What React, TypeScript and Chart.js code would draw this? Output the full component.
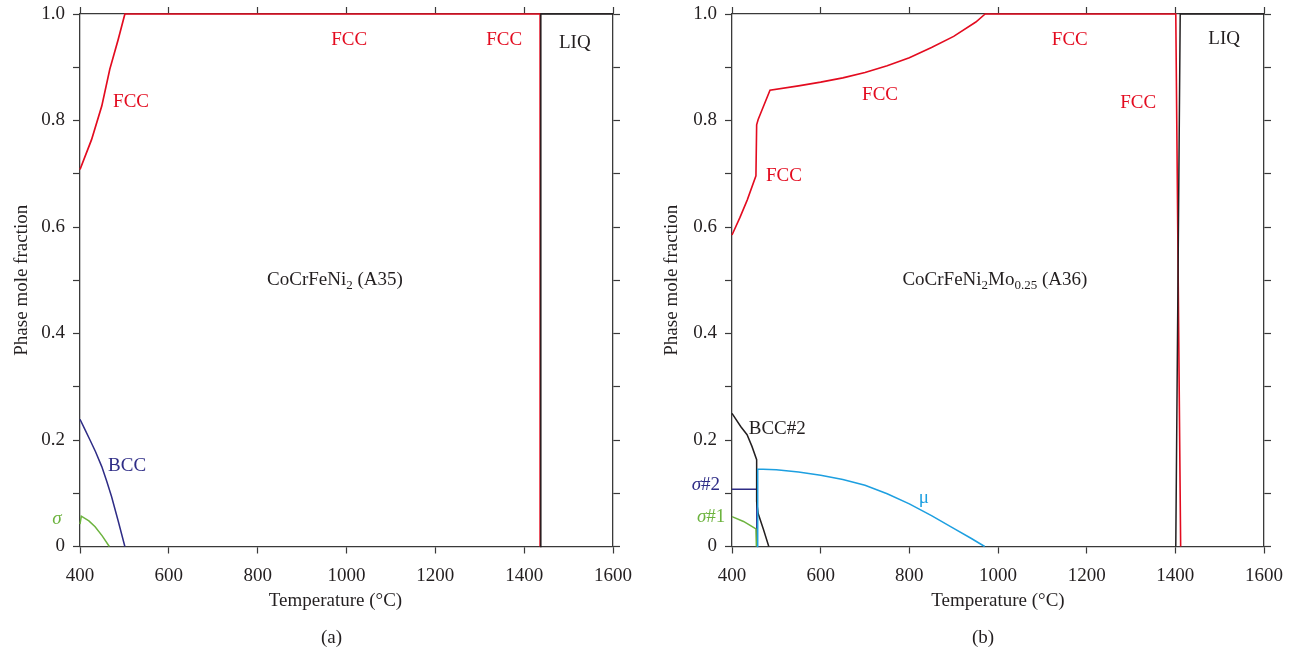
import React, { useEffect, useRef } from 'react';
import { Chart, registerables } from 'chart.js';

Chart.register(...registerables);

const FONT = '"Liberation Serif", "DejaVu Serif", serif';
const RED = '#e30b1f';
const BLUE = '#2e2c86';
const GREEN = '#6cb33e';
const CYAN = '#1d9fe0';
const BLACK = '#231f20';
const AXIS = '#3a3a3a';

// ---------- Panel (a): CoCrFeNi2 (A35) ----------
const aFccT = [400, 426, 449, 467, 486, 501, 1436, 1436];
const aFccF = [0.708, 0.764, 0.827, 0.896, 0.952, 1.0, 1.0, 0];
const aLiqT = [1436, 1437.5, 1600];
const aLiqF = [0, 1.0, 1.0];
const aBccT = [400, 411, 422.5, 435, 449, 460, 471, 486, 501];
const aBccF = [0.239, 0.22, 0.2, 0.178, 0.15, 0.123, 0.094, 0.048, 0];
const aSigT = [400, 403, 420, 434, 450, 466];
const aSigF = [0.042, 0.057, 0.048, 0.037, 0.02, 0];

// ---------- Panel (b): CoCrFeNi2Mo0.25 (A36) ----------
const bFccT = [400, 418, 434.5, 454, 455.6, 459, 485.7, 550, 600, 650, 700, 750, 800, 850, 900, 950, 971, 1401, 1412];
const bFccF = [0.585, 0.618, 0.651, 0.696, 0.792, 0.802, 0.857, 0.865, 0.872, 0.88, 0.89, 0.903, 0.918, 0.937, 0.958, 0.985, 1.0, 1.0, 0];
const bLiqT = [1401, 1411, 1600];
const bLiqF = [0, 1.0, 1.0];
const bBcc2T = [400, 420, 434, 445, 455.6, 455.6, 459, 471, 483];
const bBcc2F = [0.25, 0.225, 0.21, 0.188, 0.163, 0.084, 0.062, 0.032, 0];
const bSig2T = [400, 456, 456];
const bSig2F = [0.1075, 0.1075, 0];
const bSig1T = [400, 426, 440, 454, 455];
const bSig1F = [0.056, 0.047, 0.04, 0.033, 0];
const bMuT = [456.5, 458, 470, 500, 550, 600, 650, 700, 750, 800, 850, 900, 940, 970];
const bMuF = [0, 0.145, 0.145, 0.144, 0.14, 0.134, 0.126, 0.115, 0.099, 0.08, 0.058, 0.034, 0.015, 0];

const X_MIN = 400;
const X_MAX = 1600;
const X_STEP = 200;
const Y_STEP = 0.1;
const X_TITLE = 'Temperature (°C)';
const Y_TITLE = 'Phase mole fraction';

type Part = { s: string; sub?: boolean; it?: boolean };
type Label = { parts: Part[]; t: number; f: number; color: string };

const aLabels: Label[] = [
  { parts: [{ s: 'FCC' }], t: 515, f: 0.839, color: RED },
  { parts: [{ s: 'FCC' }], t: 1006, f: 0.954, color: RED },
  { parts: [{ s: 'FCC' }], t: 1355, f: 0.954, color: RED },
  { parts: [{ s: 'LIQ' }], t: 1514, f: 0.95, color: BLACK },
  { parts: [{ s: 'BCC' }], t: 506, f: 0.155, color: BLUE },
  { parts: [{ s: 'σ', it: true }], t: 348, f: 0.055, color: GREEN },
  { parts: [{ s: 'CoCrFeNi' }, { s: '2', sub: true }, { s: ' (A35)' }], t: 974, f: 0.505, color: BLACK },
];

const bLabels: Label[] = [
  { parts: [{ s: 'FCC' }], t: 1162, f: 0.954, color: RED },
  { parts: [{ s: 'FCC' }], t: 734, f: 0.852, color: RED },
  { parts: [{ s: 'FCC' }], t: 1316, f: 0.837, color: RED },
  { parts: [{ s: 'FCC' }], t: 517, f: 0.7, color: RED },
  { parts: [{ s: 'LIQ' }], t: 1510, f: 0.956, color: BLACK },
  { parts: [{ s: 'BCC#2' }], t: 502, f: 0.225, color: BLACK },
  { parts: [{ s: 'σ', it: true }, { s: '#2' }], t: 341, f: 0.119, color: BLUE },
  { parts: [{ s: 'σ', it: true }, { s: '#1' }], t: 353, f: 0.059, color: GREEN },
  { parts: [{ s: 'μ' }], t: 833, f: 0.095, color: CYAN },
  {
    parts: [{ s: 'CoCrFeNi' }, { s: '2', sub: true }, { s: 'Mo' }, { s: '0.25', sub: true }, { s: ' (A36)' }],
    t: 993,
    f: 0.505,
    color: BLACK,
  },
];

const zip = (t: number[], f: number[]) => t.map((v, i) => ({ x: v, y: f[i] }));

const line = (t: number[], f: number[], color: string, width = 1.5) => ({
  data: zip(t, f),
  borderColor: color,
  backgroundColor: color,
  borderWidth: width,
  pointRadius: 0,
  tension: 0,
  fill: false,
  clip: false as any,
});

const FS = 19;
const SUB = 13;

function drawRich(ctx: CanvasRenderingContext2D, parts: Part[], cx: number, cy: number, color: string) {
  const fontOf = (p: Part) => `${p.it ? 'italic ' : ''}${p.sub ? SUB : FS}px ${FONT}`;
  let total = 0;
  const widths = parts.map((p) => {
    ctx.font = fontOf(p);
    const w = ctx.measureText(p.s).width;
    total += w;
    return w;
  });
  let x = cx - total / 2;
  ctx.fillStyle = color;
  ctx.textBaseline = 'middle';
  ctx.textAlign = 'left';
  parts.forEach((p, i) => {
    ctx.font = fontOf(p);
    ctx.fillText(p.s, x, cy + 2 + (p.sub ? 6 : 0));
    x += widths[i];
  });
}

function makeTextPlugin(labels: Label[], caption: string, titleShift: number) {
  return {
    id: 'phaseText',
    afterDatasetsDraw(chart: any) {
      const { ctx, scales, chartArea } = chart;
      ctx.save();
      for (const lab of labels) {
        const cx = scales.x.getPixelForValue(lab.t);
        const cy = scales.y.getPixelForValue(lab.f);
        drawRich(ctx, lab.parts, cx, cy, lab.color);
      }
      const mid = (chartArea.left + chartArea.right) / 2;
      ctx.font = `${FS}px ${FONT}`;
      ctx.fillStyle = BLACK;
      ctx.textAlign = 'center';
      ctx.textBaseline = 'middle';
      ctx.fillText(X_TITLE, mid + titleShift, 601);
      ctx.fillText(caption, mid - 15, chart.height - 16);
      ctx.restore();
    },
  };
}

const gridOpts = {
  drawOnChartArea: false,
  drawTicks: true,
  tickLength: 7,
  tickColor: AXIS,
  tickWidth: 1.2,
};
const borderOpts = { display: true, color: AXIS, width: 1.3 };
const tickFont = { family: FONT, size: FS };

function makeConfig(
  datasets: any[],
  labels: Label[],
  caption: string,
  yWidth: number,
  y2Width: number,
  yTitlePad: number,
  titleShift: number
): any {
  return {
    type: 'line',
    data: { datasets },
    options: {
      animation: false,
      responsive: false,
      maintainAspectRatio: false,
      devicePixelRatio: 1,
      layout: { padding: 0 },
      plugins: { legend: { display: false }, tooltip: { enabled: false }, title: { display: false } },
      scales: {
        x: {
          type: 'linear',
          position: 'bottom',
          min: X_MIN,
          max: X_MAX,
          ticks: {
            stepSize: X_STEP,
            font: tickFont,
            color: BLACK,
            padding: 11,
            maxRotation: 0,
            autoSkip: false,
            callback: (v: number) => String(v),
          },
          grid: gridOpts,
          border: borderOpts,
          afterFit: (s: any) => {
            s.height = 107.5;
            s.paddingLeft = 0;
            s.paddingRight = 0;
          },
        },
        x2: {
          type: 'linear',
          position: 'top',
          min: X_MIN,
          max: X_MAX,
          ticks: { stepSize: X_STEP, display: false },
          grid: gridOpts,
          border: borderOpts,
          afterFit: (s: any) => {
            s.height = 14;
            s.paddingLeft = 0;
            s.paddingRight = 0;
          },
        },
        y: {
          type: 'linear',
          position: 'left',
          min: 0,
          max: 1,
          ticks: {
            stepSize: Y_STEP,
            font: tickFont,
            color: BLACK,
            padding: 8,
            autoSkip: false,
            callback: (v: number) => {
              const k = Math.round(v * 10);
              if (k % 2) return '';
              return k === 0 ? '0' : (k / 10).toFixed(1);
            },
          },
          grid: gridOpts,
          border: borderOpts,
          title: {
            display: true,
            text: Y_TITLE,
            font: tickFont,
            color: BLACK,
            padding: { top: yTitlePad, bottom: 0 },
          },
          afterFit: (s: any) => {
            s.width = yWidth;
            s.paddingTop = 0;
            s.paddingBottom = 0;
          },
        },
        y2: {
          type: 'linear',
          position: 'right',
          min: 0,
          max: 1,
          ticks: { stepSize: Y_STEP, display: false },
          grid: gridOpts,
          border: borderOpts,
          afterFit: (s: any) => {
            s.width = y2Width;
            s.paddingTop = 0;
            s.paddingBottom = 0;
          },
        },
      },
    },
    plugins: [makeTextPlugin(labels, caption, titleShift)],
  };
}

function Panel(props: { which: 'a' | 'b'; left: number }) {
  const ref = useRef<HTMLCanvasElement | null>(null);
  useEffect(() => {
    if (!ref.current) return;
    let cfg: any;
    if (props.which === 'a') {
      cfg = makeConfig(
        [
          line(aLiqT, aLiqF, BLACK),
          line(aSigT, aSigF, GREEN),
          line(aBccT, aBccF, BLUE),
          line(aFccT, aFccF, RED, 1.7),
        ],
        aLabels,
        '(a)',
        80,
        35,
        11,
        -11
      );
    } else {
      cfg = makeConfig(
        [
          line(bLiqT, bLiqF, BLACK),
          line(bMuT, bMuF, CYAN),
          line(bSig1T, bSig1F, GREEN),
          line(bBcc2T, bBcc2F, BLACK),
          line(bSig2T, bSig2F, BLUE),
          line(bFccT, bFccF, RED, 1.6),
        ],
        bLabels,
        '(b)',
        84,
        32,
        13,
        0
      );
    }
    const chart = new Chart(ref.current, cfg);
    return () => chart.destroy();
  }, [props.which]);
  return (
    <canvas
      ref={ref}
      width={648}
      height={654}
      style={{ position: 'absolute', left: props.left, top: 0, width: 648, height: 654 }}
    />
  );
}

export default function App() {
  return (
    <div style={{ position: 'absolute', left: 0, top: 0, width: 1296, height: 654, background: '#fff', overflow: 'hidden' }}>
      <Panel which="a" left={0} />
      <Panel which="b" left={648} />
    </div>
  );
}
